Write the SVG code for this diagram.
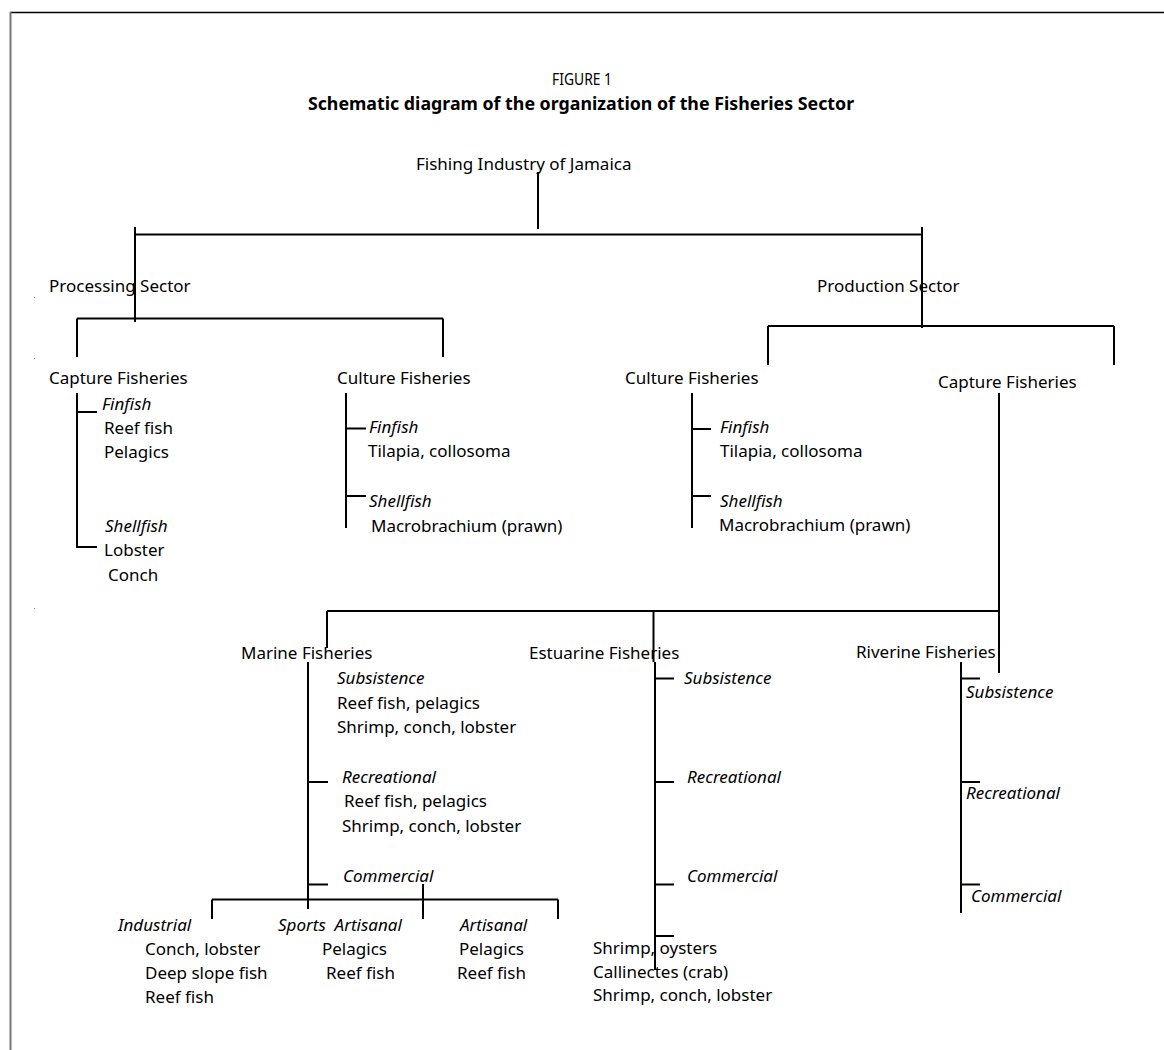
<svg xmlns="http://www.w3.org/2000/svg" width="1164" height="1050" viewBox="0 0 1164 1050">
<style>
text{font-family:"Noto Sans","Open Sans","Liberation Sans",sans-serif;font-size:17px;fill:#000}
.i{font-style:italic}
.b{font-weight:bold;font-size:17.8px}
.c{stroke:#000;stroke-width:2;fill:none}
</style>
<rect width="1164" height="1050" fill="#fff"/>
<g id="frame">
<line x1="10" y1="12.5" x2="1164" y2="12.5" stroke="#000" stroke-width="1.6"/>
<line x1="10.5" y1="12" x2="10.5" y2="1050" stroke="#777" stroke-width="2"/>
<rect x="34" y="297" width="1" height="1" fill="#999"/>
<rect x="34" y="358" width="1" height="1" fill="#999"/>
<rect x="34" y="608" width="1" height="1" fill="#999"/>
</g>
<g id="title">
<text x="582" y="85" text-anchor="middle" textLength="60" lengthAdjust="spacingAndGlyphs" style="font-size:16px">FIGURE 1</text>
<text x="581" y="110" text-anchor="middle" class="b">Schematic diagram of the organization of the Fisheries Sector</text>
</g>
<g id="connectors" class="c">
<path d="M538 172V229"/>
<path d="M135 234.5H922"/>
<path d="M135 227V322"/>
<path d="M922 227V328"/>
<path d="M77 318.5H443M77 318.5V357M443 318.5V357"/>
<path d="M768 326H1114M768 326V365M1114 326V365"/>
<path d="M77 393V547H97M77 412H97"/>
<path d="M346 393V528M346 428.5H366M346 496H366"/>
<path d="M692 393V528M692 429H711M692 496H711"/>
<path d="M999 393V673"/>
<path d="M327 611H999M327 611V648M653.5 611V662"/>
<path d="M308 662V909M308 782H328M308 884.5H328"/>
<path d="M423 884V919M212 899.5H558M212 899.5V919M558 899.5V919"/>
<path d="M655 662V970M655 678.5H674M655 782H674M655 884.5H674M655 936H674"/>
<path d="M961 662V913M961 678.5H980M961 782H980M961 884.5H980"/>
</g>
<g id="n-root"><text x="416" y="170">Fishing Industry of Jamaica</text></g>
<g id="n-processing"><text x="49" y="292">Processing Sector</text></g>
<g id="n-production"><text x="817" y="292">Production Sector</text></g>
<g id="n-proc-capture">
<text x="49" y="384">Capture Fisheries</text>
<text x="102" y="410" class="i">Finfish</text>
<text x="104" y="434">Reef fish</text>
<text x="104" y="458">Pelagics</text>
<text x="105" y="532" class="i">Shellfish</text>
<text x="104" y="556">Lobster</text>
<text x="108" y="581">Conch</text>
</g>
<g id="n-proc-culture">
<text x="337" y="384">Culture Fisheries</text>
<text x="369" y="433" class="i">Finfish</text>
<text x="368" y="457">Tilapia, collosoma</text>
<text x="369" y="507" class="i">Shellfish</text>
<text x="371" y="532">Macrobrachium (prawn)</text>
</g>
<g id="n-prod-culture">
<text x="625" y="384">Culture Fisheries</text>
<text x="720" y="433" class="i">Finfish</text>
<text x="720" y="457">Tilapia, collosoma</text>
<text x="720" y="507" class="i">Shellfish</text>
<text x="719" y="531">Macrobrachium (prawn)</text>
</g>
<g id="n-prod-capture"><text x="938" y="388">Capture Fisheries</text></g>
<g id="n-marine">
<text x="241" y="659">Marine Fisheries</text>
<text x="337" y="684" class="i">Subsistence</text>
<text x="337" y="709">Reef fish, pelagics</text>
<text x="337" y="733">Shrimp, conch, lobster</text>
<text x="342" y="783" class="i">Recreational</text>
<text x="344" y="807">Reef fish, pelagics</text>
<text x="342" y="832">Shrimp, conch, lobster</text>
<text x="343" y="882" class="i">Commercial</text>
</g>
<g id="n-industrial">
<text x="118" y="931" class="i">Industrial</text>
<text x="145" y="955">Conch, lobster</text>
<text x="145" y="979">Deep slope fish</text>
<text x="145" y="1003">Reef fish</text>
</g>
<g id="n-sports">
<text x="278" y="931" class="i" xml:space="preserve">Sports  Artisanal</text>
<text x="322" y="955">Pelagics</text>
<text x="326" y="979">Reef fish</text>
</g>
<g id="n-artisanal">
<text x="460" y="931" class="i">Artisanal</text>
<text x="459" y="955">Pelagics</text>
<text x="457" y="979">Reef fish</text>
</g>
<g id="n-estuarine">
<text x="529" y="659">Estuarine Fisheries</text>
<text x="684" y="684" class="i">Subsistence</text>
<text x="687" y="783" class="i">Recreational</text>
<text x="687" y="882" class="i">Commercial</text>
<text x="593" y="954">Shrimp, oysters</text>
<text x="593" y="978">Callinectes (crab)</text>
<text x="593" y="1001">Shrimp, conch, lobster</text>
</g>
<g id="n-riverine">
<text x="856" y="658">Riverine Fisheries</text>
<text x="966" y="698" class="i">Subsistence</text>
<text x="966" y="799" class="i">Recreational</text>
<text x="971" y="902" class="i">Commercial</text>
</g>
</svg>
